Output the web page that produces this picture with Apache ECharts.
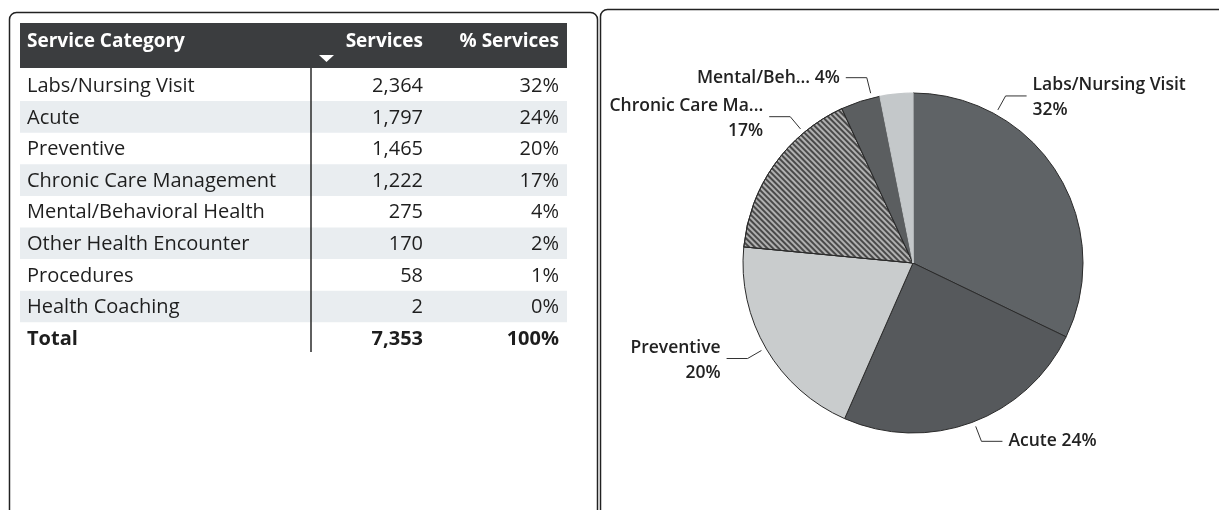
<!DOCTYPE html>
<html>
<head>
<meta charset="utf-8">
<script src="https://cdn.jsdelivr.net/npm/echarts@6/dist/echarts.min.js"></script>
<style>
  html, body { margin: 0; padding: 0; background: #ffffff; }
  #main { width: 1219px; height: 510px; }
</style>
</head>
<body>
<div id="main"></div>
<script>
// Services by category
const categories = [
  'Labs/Nursing Visit',
  'Acute',
  'Preventive',
  'Chronic Care Management',
  'Mental/Behavioral Health',
  'Other Health Encounter',
  'Procedures',
  'Health Coaching'
];
const services = [2364, 1797, 1465, 1222, 275, 170, 58, 2];
const columnHeaders = ['Service Category', 'Services', '% Services'];
const totalLabel = 'Total';
// shortened slice names shown next to the pie ('' = no label)
const sliceLabelNames = ['Labs/Nursing Visit', 'Acute', 'Preventive', 'Chronic Care Ma...', 'Mental/Beh...', '', '', ''];

const total = services.reduce((a, b) => a + b, 0);
const pct = v => Math.round(v / total * 100) + '%';
const fmt = v => v.toLocaleString('en-US');

const FONT = '"Open Sans", "Noto Sans", sans-serif';

// ---- table geometry ----
const T = {
  left: 20, right: 567,
  headTop: 23, headBottom: 68,
  rowTop: 69.5, rowH: 31.6,
  nameX: 27, servX: 423, pctX: 559,
  dividerX: 311
};

function buildTable() {
  const els = [];
  // header bar
  els.push({ type: 'rect', shape: { x: T.left, y: T.headTop, width: T.right - T.left, height: T.headBottom - T.headTop },
    style: { fill: '#3b3d3f' } });
  const headY = 42;
  const headX = [T.nameX, T.servX, T.pctX];
  const headAlign = ['left', 'right', 'right'];
  columnHeaders.forEach((h, i) => {
    els.push({ type: 'text', x: headX[i], y: headY,
      style: { text: h, fill: '#ffffff', font: 'bold 19px ' + FONT, align: headAlign[i], verticalAlign: 'middle' } });
  });
  // sort indicator under "Services"
  els.push({ type: 'polygon', shape: { points: [[319, 55], [334, 55], [326.5, 62]] }, style: { fill: '#ffffff' } });

  const rows = categories.map((c, i) => [c, fmt(services[i]), pct(services[i])]);
  rows.push([totalLabel, fmt(total), pct(total)]);
  rows.forEach((r, i) => {
    const top = T.rowTop + i * T.rowH;
    if (i % 2 === 1 && i < categories.length) {
      els.push({ type: 'rect', shape: { x: T.left, y: top, width: T.right - T.left, height: T.rowH },
        style: { fill: '#e9edf0' }, z: 0 });
    }
    const isTotal = i === categories.length;
    const font = (isTotal ? 'bold ' : '') + '20px ' + FONT;
    const cy = top + T.rowH / 2 + 1;
    [T.nameX, T.servX, T.pctX].forEach((x, j) => {
      els.push({ type: 'text', x: x, y: cy, z: 2,
        style: { text: r[j], fill: '#1e1e1e', font: font, align: j === 0 ? 'left' : 'right', verticalAlign: 'middle' } });
    });
  });
  // column divider
  els.push({ type: 'line', shape: { x1: T.dividerX, y1: T.headBottom, x2: T.dividerX, y2: 352 },
    style: { stroke: '#2a2a2a', lineWidth: 1.5 }, z: 3 });
  return els;
}

// ---- panel frames ----
const frames = [
  { type: 'rect', shape: { x: 9.5, y: 12.5, width: 588, height: 540, r: 7 },
    style: { fill: 'none', stroke: '#222222', lineWidth: 1.5 }, z: 5 },
  { type: 'rect', shape: { x: 600.5, y: 9.5, width: 660, height: 540, r: 7 },
    style: { fill: 'none', stroke: '#222222', lineWidth: 1.5 }, z: 5 }
];

// ---- pie ----
const PIE = { cx: 913, cy: 263, r: 170 };
const sliceColors = ['#5f6366', '#56595c', '#c9cccd', '#b0b0b0', '#5b5e60', '#c4c8ca', '#c4c8ca', '#c4c8ca'];
// small light slices blend together without dividing strokes
const sliceBorders = ['#2b2b2b', '#2b2b2b', '#2b2b2b', '#2b2b2b', '#2b2b2b', '#c4c8ca', '#c4c8ca', '#c4c8ca'];
const twoLine = [true, false, true, true, false];
// where each leader line leaves the pie, degrees clockwise from 12 o'clock
const labelAnchorDeg = [29, 159, 240, 320, 346];

const hatch = {
  symbol: 'rect', symbolSize: 1,
  dashArrayX: [[1, 0]], dashArrayY: [1.3, 1.5],
  rotation: Math.PI / 4,
  color: 'rgba(55,55,55,0.85)'
};

function polar(deg, rad) {
  const a = deg * Math.PI / 180;
  return [PIE.cx + rad * Math.sin(a), PIE.cy - rad * Math.cos(a)];
}

const pieData = categories.map((c, i) => ({
  name: c,
  value: services[i],
  itemStyle: Object.assign({ color: sliceColors[i], borderColor: sliceBorders[i] }, i === 3 ? { decal: hatch } : {}),
  label: { show: !!sliceLabelNames[i] },
  labelLine: { show: !!sliceLabelNames[i] }
}));

const chart = echarts.init(document.getElementById('main'), null, { renderer: 'canvas' });
chart.setOption({
  animation: false,
  backgroundColor: '#ffffff',
  graphic: { elements: frames.concat(buildTable()) },
  series: [{
    type: 'pie',
    center: [PIE.cx, PIE.cy],
    radius: PIE.r,
    startAngle: 90,
    clockwise: true,
    avoidLabelOverlap: false,
    silent: true,
    data: pieData,
    itemStyle: { borderColor: '#2b2b2b', borderWidth: 1 },
    label: {
      position: 'outside',
      fontFamily: FONT,
      fontSize: 17.5,
      fontWeight: 600,
      color: '#222222',
      lineHeight: 25,
      formatter: p => sliceLabelNames[p.dataIndex] + (twoLine[p.dataIndex] ? '\n' : ' ') + pct(p.value)
    },
    labelLine: { lineStyle: { color: '#333333', width: 1 } },
    labelLayout: function (params) {
      const i = params.dataIndex;
      if (i >= labelAnchorDeg.length) return {};
      const deg = labelAnchorDeg[i];
      const side = Math.sin(deg * Math.PI / 180) > 0 ? 1 : -1;
      const start = polar(deg, PIE.r + 5);
      const elbow = polar(deg, PIE.r + 21);
      const end = [elbow[0] + side * 21, elbow[1]];
      return {
        x: end[0] + side * 6,
        y: elbow[1] + (twoLine[i] ? 2 : 0),
        align: side > 0 ? 'left' : 'right',
        verticalAlign: 'middle',
        labelLinePoints: [start, elbow, end]
      };
    }
  }]
});
</script>
</body>
</html>
